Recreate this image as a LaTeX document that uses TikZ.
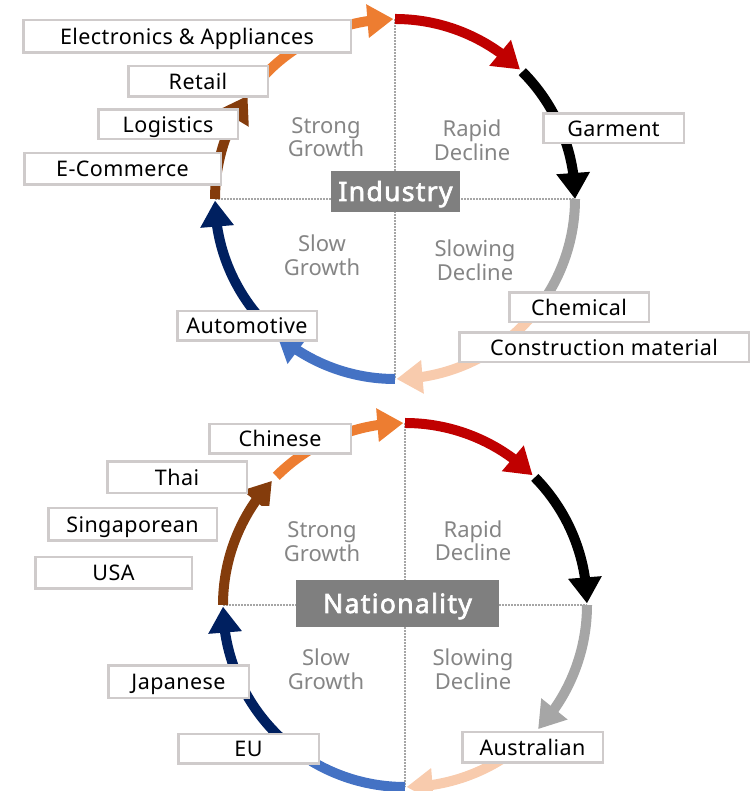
\documentclass[tikz,border=0pt]{standalone}
\usepackage{fontspec}
\setmainfont{Noto Sans}
\newfontfamily\lblfont{Noto Sans}[LetterSpace=2]
\newfontfamily\hubfont{Noto Sans}[FakeBold=2.5,LetterSpace=5]
\usetikzlibrary{arrows.meta,bending}
\definecolor{cOrange}{HTML}{ED7D31}
\definecolor{cRed}{HTML}{C00000}
\definecolor{cGrey}{HTML}{A6A6A6}
\definecolor{cPeach}{HTML}{F8CBAD}
\definecolor{cBlue}{HTML}{4472C4}
\definecolor{cNavy}{HTML}{002060}
\definecolor{cBrown}{HTML}{843C0C}
\definecolor{boxgrey}{HTML}{CFCBCB}
\definecolor{quadgrey}{HTML}{858585}
\definecolor{hubgrey}{HTML}{7F7F7F}
\definecolor{dotgrey}{HTML}{A6A6A6}
\begin{document}
\begin{tikzpicture}[x=1pt,y=1pt,
  arr/.style={line width=10pt,-{Triangle[width=32pt,length=26pt]}},
  seg/.style={line width=10pt},
  lbl/.style={draw=boxgrey,line width=2.5pt,fill=white,inner sep=0pt,text height=15.5pt,text depth=0pt,font=\lblfont\fontsize{21.5}{24}\selectfont},
  quad/.style={text=quadgrey,align=center,inner sep=0pt,font=\fontsize{22}{23.5}\selectfont},
  hub/.style={fill=hubgrey,text=white,inner sep=0pt,font=\hubfont\fontsize{26.5}{30}\selectfont,text height=19pt,text depth=0pt},
  gridline/.style={draw=dotgrey,line width=1.6pt,dash pattern=on 1.6pt off 1.4pt}]
\useasboundingbox (0,0) rectangle (754,791);

% ---------- top cycle ----------
\coordinate (T) at (395,592);
\coordinate (TL) at (215,592);
\coordinate (TR) at (575,592);
\coordinate (TT) at (395,772);
\coordinate (TB) at (395,412);
\draw[gridline] (TL) -- (TR);
\draw[gridline] (TT) -- (TB);
\begin{scope}[shift={(T)}]
\draw[arr,cRed] (90:180pt) arc[start angle=90,end angle=46,radius=180pt];
\draw[arr,black] (45:180pt) arc[start angle=45,end angle=0,radius=180pt];
\draw[seg,cGrey] (0:180pt) arc[start angle=0,end angle=-37,radius=180pt];
\draw[arr,cPeach] (-41:180pt) arc[start angle=-41,end angle=-89.5,radius=180pt];
\draw[arr,cBlue] (-90:180pt) arc[start angle=-90,end angle=-131,radius=180pt];
\draw[arr,cNavy] (222:180pt) arc[start angle=222,end angle=180.5,radius=180pt];
\draw[arr,cBrown] (180:180pt) arc[start angle=180,end angle=145,radius=180pt];
\draw[arr,cOrange] (143:180pt) arc[start angle=143,end angle=90.5,radius=180pt];
\end{scope}

\node[lbl,minimum width=327.5pt,minimum height=32.5pt] (elec) at (187,754.5) {Electronics \& Appliances};
\node[lbl,minimum width=139.5pt,minimum height=30.5pt] (retail) at (198,709.5) {Retail};
\node[lbl,minimum width=139.5pt,minimum height=29.5pt] (logi) at (168,666.5) {Logistics};
\node[lbl,minimum width=196.5pt,minimum height=31.5pt] (ecom) at (122.5,622) {E-Commerce};
\node[lbl,minimum width=140.5pt,minimum height=29.5pt] (garm) at (613.5,662.5) {Garment};
\node[lbl,minimum width=139.5pt,minimum height=29.5pt] (chem) at (579,483.5) {Chemical};
\node[lbl,minimum width=289.5pt,minimum height=29.5pt] (cons) at (604,443.5) {Construction material};
\node[lbl,minimum width=139.5pt,minimum height=29.5pt] (auto) at (247,465) {Automotive};

\node[hub,minimum width=129pt,minimum height=41pt] (ind) at (395.5,599.5) {Industry};
\node[quad] (q1) at (326,654) {Strong\\Growth};
\node[quad] (q2) at (472,650.5) {Rapid\\Decline};
\node[quad] (q3) at (322,535.5) {Slow\\Growth};
\node[quad] (q4) at (475,530.5) {Slowing\\Decline};

% ---------- bottom cycle ----------
\coordinate (B) at (405,186);
\coordinate (BL) at (223,186);
\coordinate (BR) at (587,186);
\coordinate (BT) at (405,368);
\coordinate (BB) at (405,4);
\draw[gridline] (BL) -- (BR);
\draw[gridline] (BT) -- (BB);
\begin{scope}[shift={(B)}]
\draw[arr,cRed] (90:182pt) arc[start angle=90,end angle=45.5,radius=182pt];
\draw[arr,black] (44.5:182pt) arc[start angle=44.5,end angle=0.5,radius=182pt];
\draw[arr,cGrey] (0:182pt) arc[start angle=0,end angle=-43,radius=182pt];
\draw[arr,cPeach] (-50:182pt) arc[start angle=-50,end angle=-89.5,radius=182pt];
\draw[seg,cBlue] (-90:182pt) arc[start angle=-90,end angle=-121,radius=182pt];
\draw[arr,cNavy] (228:182pt) arc[start angle=228,end angle=180.5,radius=182pt];
\draw[arr,cBrown] (180:182pt) arc[start angle=180,end angle=137,radius=182pt];
\draw[arr,cOrange] (135:182pt) arc[start angle=135,end angle=90.5,radius=182pt];
\end{scope}
\fill[white] (259,285) rectangle (280,261);

\node[lbl,minimum width=141.5pt,minimum height=29.5pt] (chin) at (280,352) {Chinese};
\node[lbl,minimum width=139.5pt,minimum height=31.5pt] (thai) at (177,313.5) {Thai};
\node[lbl,minimum width=168.5pt,minimum height=32.5pt] (sing) at (132.5,266.5) {Singaporean};
\node[lbl,minimum width=156.5pt,minimum height=31.5pt] (usa) at (113.5,218) {USA};
\node[lbl,minimum width=140.5pt,minimum height=32.5pt] (jap) at (178.5,109) {Japanese};
\node[lbl,minimum width=140.5pt,minimum height=29.5pt] (eu) at (248.5,42) {EU};
\node[lbl,minimum width=140.5pt,minimum height=30.5pt] (aus) at (532.5,43.5) {Australian};

\node[hub,minimum width=203pt,minimum height=47pt] (nat) at (397.5,187.5) {Nationality};
\node[quad] (r1) at (322,249.5) {Strong\\Growth};
\node[quad] (r2) at (473,250) {Rapid\\Decline};
\node[quad] (r3) at (326,121.5) {Slow\\Growth};
\node[quad] (r4) at (473,121.5) {Slowing\\Decline};
\end{tikzpicture}
\end{document}
